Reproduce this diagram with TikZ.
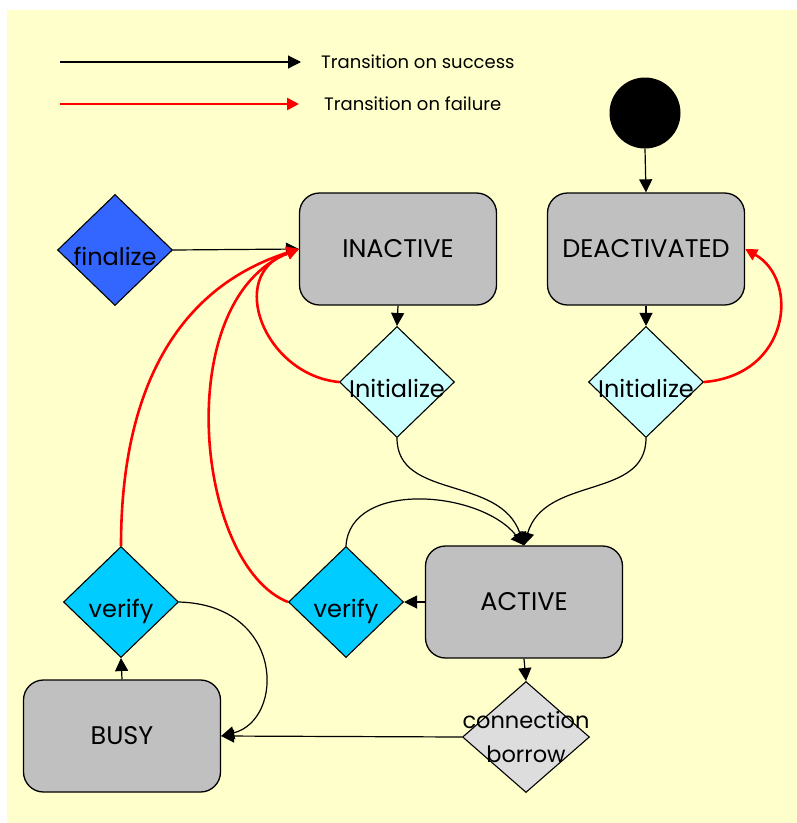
\documentclass[tikz,border=0pt]{standalone}
\usepackage{fontspec}
\setmainfont{Poppins}
\usetikzlibrary{shapes.geometric,arrows.meta}
\definecolor{bgyellow}{HTML}{FFFFCC}
\definecolor{stategray}{HTML}{C0C0C0}
\definecolor{initcyan}{HTML}{CCFFFF}
\definecolor{verifyblue}{HTML}{00CCFF}
\definecolor{finalblue}{HTML}{3366FF}
\definecolor{borrowgray}{HTML}{DDDDDD}
\definecolor{failred}{HTML}{FF0000}
% label sitting a little below the centre of a decision diamond
\newcommand{\dlabel}[1]{\makebox[0pt]{\raisebox{-15pt}[0pt][0pt]{#1}}}
\tikzset{
  state/.style={draw, line width=1.3pt, rounded corners=20pt, fill=stategray,
    minimum width=197pt, minimum height=112pt, inner sep=0pt, font=\fontsize{25.5}{30}\selectfont},
  choice/.style={draw, line width=1.1pt, shape=diamond, inner sep=0pt,
    minimum width=115pt, minimum height=111pt, font=\fontsize{24}{34}\selectfont},
  ok/.style={line width=1.2pt, draw=black, -{Triangle[length=13pt,width=13pt]}},
  fail/.style={line width=2.6pt, draw=failred, -{Triangle[length=12pt,width=12pt]}},
  legendtext/.style={font=\fontsize{18}{21}\selectfont, anchor=west, inner sep=0pt}
}
\begin{document}
\begin{tikzpicture}[x=1pt,y=-1pt]
\useasboundingbox (0,0) rectangle (797,823);
\fill[bgyellow] (7,10) rectangle (797,823);

% legend
\coordinate (okA) at (60,62);
\coordinate (okB) at (301,62);
\coordinate (failA) at (60,104);
\coordinate (failB) at (299,104);
\draw[ok] (okA) -- (okB);
\draw[fail] (failA) -- (failB);
\node[legendtext] (oktext) at (321,62) {Transition on success};
\node[legendtext] (failtext) at (324,104) {Transition on failure};

% initial pseudo state
\node[circle, fill=black, minimum size=71pt, inner sep=0pt] (start) at (645,113) {};

% states
\node[state] (inactive) at (398,249) {INACTIVE};
\node[state] (deact) at (646,249) {DEACTIVATED};
\node[state] (active) at (524,602) {ACTIVE};
\node[state] (busy) at (122,736) {BUSY};

% decisions
\node[choice, fill=finalblue] (finalize) at (115,250) {\dlabel{finalize}};
\node[choice, fill=initcyan] (init1) at (397,382) {\dlabel{Initialize}};
\node[choice, fill=initcyan] (init2) at (646,382) {\dlabel{Initialize}};
\node[choice, fill=verifyblue] (verify2) at (346,602) {\dlabel{verify}};
\node[choice, fill=verifyblue] (verify1) at (121,602) {\dlabel{verify}};
\node[choice, fill=borrowgray, minimum width=127pt, font=\fontsize{22.5}{34}\selectfont] (borrow) at (526,737)
  {\makebox[0pt]{\raisebox{9pt}[0pt][0pt]{\begin{tabular}[t]{@{}c@{}}connection\\borrow\end{tabular}}}};

% success transitions
\draw[ok] (start.south) -- (deact.north);
\draw[ok] (finalize.east) -- (inactive.west);
\draw[ok] (inactive.south) -- (init1.north);
\draw[ok] (deact.south) -- (init2.north);
\draw[ok] (init1.south) .. controls (397,500) and (500,475) .. (active.north);
\draw[ok] (init2.south) .. controls (646,500) and (545,475) .. (active.north);
\draw[ok] (verify2.north) .. controls (350,480) and (480,490) .. (active.north);
\draw[ok] (active.west) -- (verify2.east);
\draw[ok] (active.south) -- (borrow.north);
\draw[ok] (borrow.west) -- (busy.east);
\draw[ok] (busy.north) -- (verify1.south);
\draw[ok] (verify1.east) .. controls (285,605) and (285,720) .. (busy.east);

% failure transitions
\draw[fail] (init1.west) .. controls (265,375) and (225,275) .. (inactive.west);
\draw[fail] (verify2.west) .. controls (195,565) and (170,300) .. (inactive.west);
\draw[fail] (verify1.north) .. controls (121,400) and (170,290) .. (inactive.west);
\draw[fail] (init2.east) .. controls (790,375) and (800,280) .. (deact.east);
\end{tikzpicture}
\end{document}
